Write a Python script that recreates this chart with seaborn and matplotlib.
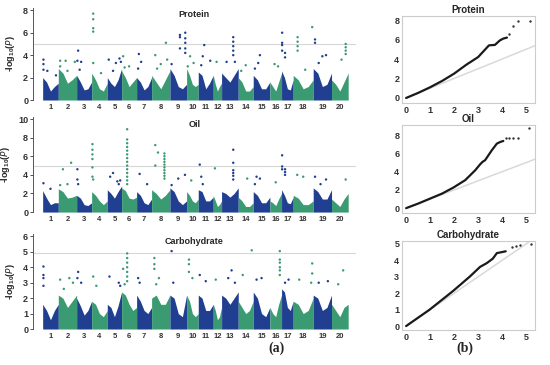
import numpy as np
import pandas as pd
import matplotlib
matplotlib.use("Agg")
import matplotlib.pyplot as plt
import seaborn as sns

sns.set_style("ticks")
plt.rcParams['font.family'] = ['Liberation Sans', 'DejaVu Sans']
plt.rcParams['mathtext.default'] = 'regular'

# relative chromosome widths as they appear on the x axis
CHROMS = list(range(1, 21))
CHROM_LEN = [47, 55, 45, 47, 43, 45, 45, 55, 50, 35, 45, 25, 50, 45, 50, 35, 35, 60, 55, 50]
PROFILE_POS = [0, 0.25, 0.5, 0.75, 1.0]

# height of the dense SNP bulk per chromosome (start, 1/4, mid, 3/4, end)
PROTEIN_BULK = [
    [2.0, 1.6, 0.8, 1.2, 1.5], [2.8, 2.4, 1.5, 1.8, 2.2], [2.2, 1.6, 0.9, 1.0, 1.6],
    [2.4, 1.8, 1.0, 0.8, 1.5], [2.0, 1.5, 1.2, 1.8, 2.8], [2.6, 2.0, 1.2, 1.6, 2.0],
    [2.0, 1.6, 0.9, 1.2, 2.0], [2.2, 1.6, 1.0, 1.8, 2.6], [2.8, 2.2, 1.2, 1.0, 1.4],
    [2.8, 2.2, 1.4, 1.2, 1.4], [2.5, 2.2, 1.0, 1.5, 2.2], [2.2, 1.4, 0.8, 1.2, 1.5],
    [2.4, 2.0, 1.6, 2.2, 2.8], [2.0, 1.6, 0.8, 0.8, 1.2], [2.2, 1.8, 1.0, 1.0, 1.6],
    [1.6, 1.2, 0.8, 1.6, 2.4], [2.6, 2.0, 1.0, 0.9, 1.8], [2.2, 1.8, 1.0, 1.2, 1.8],
    [2.8, 2.4, 1.2, 1.4, 2.4], [1.8, 1.4, 0.8, 1.6, 2.4]]
OIL_BULK = [
    [2.3, 1.5, 0.8, 1.0, 1.0], [2.5, 2.2, 1.5, 1.6, 1.8], [1.8, 1.5, 0.8, 0.7, 1.0],
    [2.2, 1.8, 1.2, 0.8, 1.2], [2.4, 2.0, 1.5, 2.2, 2.8], [2.6, 2.3, 1.5, 1.4, 1.6],
    [2.2, 1.8, 1.0, 0.8, 1.4], [2.4, 2.0, 1.4, 1.8, 2.4], [2.6, 2.2, 1.2, 0.8, 1.2],
    [2.2, 1.8, 1.2, 1.0, 1.4], [2.4, 2.2, 1.2, 1.2, 1.6], [1.8, 1.2, 0.6, 0.8, 1.2],
    [2.2, 2.0, 1.6, 2.0, 2.6], [1.6, 1.2, 0.6, 0.6, 1.0], [2.2, 1.8, 1.0, 1.0, 1.6],
    [1.2, 1.0, 0.7, 1.4, 2.0], [2.4, 1.8, 1.0, 0.9, 1.6], [1.8, 1.5, 0.8, 0.8, 1.2],
    [2.6, 2.2, 1.4, 1.4, 2.4], [1.4, 1.0, 0.6, 1.4, 2.0]]
CARB_BULK = [
    [1.6, 1.2, 0.6, 1.2, 1.6], [2.2, 2.0, 1.4, 1.8, 2.2], [2.0, 1.5, 0.9, 1.2, 1.8],
    [1.8, 1.6, 1.0, 0.8, 1.2], [1.6, 1.4, 0.8, 1.5, 2.4], [2.4, 2.2, 1.6, 1.2, 1.4],
    [2.2, 1.8, 1.2, 1.0, 1.4], [2.0, 2.2, 1.6, 1.6, 2.2], [2.2, 2.0, 1.0, 0.8, 2.2],
    [2.2, 1.8, 1.0, 0.8, 1.0], [2.2, 2.0, 1.2, 1.2, 1.6], [1.6, 1.2, 0.6, 0.8, 1.4],
    [2.2, 2.0, 1.6, 2.0, 2.4], [1.8, 1.4, 1.0, 1.2, 1.8], [2.4, 2.0, 1.0, 0.8, 1.4],
    [1.4, 1.0, 0.8, 1.6, 2.2], [2.6, 2.4, 1.4, 1.2, 1.8], [1.8, 1.6, 1.0, 1.2, 2.0],
    [2.2, 2.0, 1.2, 1.4, 2.2], [1.6, 1.2, 0.8, 1.4, 1.6]]

# individual SNPs standing out above the bulk: (chromosome, relative position, -log10 P)
PROTEIN_HITS = [
    (1, 0.05, 3.6), (1, 0.05, 3.2), (1, 0.05, 2.7), (1, 0.3, 2.6), (1, 0.85, 2.2),
    (2, 0.1, 3.5), (2, 0.1, 3.0), (2, 0.4, 3.5), (2, 0.5, 2.6), (2, 0.9, 3.4),
    (3, 0.1, 4.4), (3, 0.05, 3.5), (3, 0.3, 3.4), (3, 0.2, 2.7),
    (4, 0.1, 7.7), (4, 0.1, 7.2), (4, 0.1, 6.4), (4, 0.1, 6.1), (4, 0.1, 3.3), (4, 0.6, 2.4),
    (5, 0.1, 3.6), (5, 0.6, 3.3), (5, 0.85, 3.7), (5, 0.95, 3.4), (5, 0.4, 2.6),
    (6, 0.1, 3.9), (6, 0.5, 3.0), (6, 0.2, 2.9),
    (7, 0.15, 4.1), (7, 0.3, 3.4), (7, 0.1, 2.8),
    (8, 0.2, 4.0), (8, 0.5, 3.2), (8, 0.78, 5.1), (8, 0.85, 3.6), (8, 0.3, 2.8),
    (9, 0.6, 5.8), (9, 0.6, 5.6), (9, 0.6, 4.6), (9, 0.92, 6.0), (9, 0.92, 5.5),
    (9, 0.92, 5.1), (9, 0.92, 4.6), (9, 0.92, 4.2), (9, 0.1, 3.2),
    (10, 0.3, 3.9), (10, 0.6, 3.3), (10, 0.1, 3.0),
    (11, 0.4, 4.9), (11, 0.3, 3.9), (11, 0.8, 3.5), (11, 0.2, 3.1),
    (12, 0.4, 3.4),
    (13, 0.3, 3.4), (13, 0.7, 5.6), (13, 0.7, 5.2), (13, 0.7, 4.8), (13, 0.7, 4.4), (13, 0.7, 4.0),
    (13, 0.8, 3.4),
    (14, 0.5, 3.1), (14, 0.2, 2.6),
    (15, 0.4, 4.0), (15, 0.3, 3.3), (15, 0.1, 2.8),
    (16, 0.4, 3.2), (16, 0.7, 3.0),
    (17, 0.05, 6.0), (17, 0.05, 5.1), (17, 0.05, 4.9), (17, 0.05, 4.4), (17, 0.3, 4.2), (17, 0.3, 3.8),
    (18, 0.22, 5.6), (18, 0.22, 5.2), (18, 0.22, 4.8), (18, 0.22, 4.4), (18, 0.95, 6.5),
    (18, 0.6, 2.7),
    (19, 0.1, 5.4), (19, 0.1, 5.1), (19, 0.5, 3.9), (19, 0.7, 4.0), (19, 0.3, 3.3),
    (20, 0.85, 5.0), (20, 0.85, 4.7), (20, 0.85, 4.4), (20, 0.85, 4.1), (20, 0.6, 3.6)]
OIL_HITS = [
    (1, 0.05, 3.1), (1, 0.5, 2.5),
    (2, 0.25, 4.6), (2, 0.7, 5.3), (2, 0.5, 3.0), (2, 0.1, 2.9),
    (3, 0.05, 4.6), (3, 0.05, 3.5), (3, 0.1, 3.0),
    (4, 0.05, 7.3), (4, 0.05, 6.7), (4, 0.05, 6.2), (4, 0.05, 5.7), (4, 0.05, 4.8),
    (4, 0.05, 3.8), (4, 0.1, 3.5),
    (5, 0.2, 3.8), (5, 0.4, 4.2), (5, 0.7, 3.3), (5, 0.8, 3.0), (5, 0.9, 3.4),
    (6, 0.37, 8.9), (6, 0.37, 7.8), (6, 0.37, 7.4), (6, 0.37, 7.0), (6, 0.37, 6.6),
    (6, 0.37, 6.2), (6, 0.37, 5.8), (6, 0.37, 5.4), (6, 0.37, 5.0), (6, 0.37, 4.6),
    (6, 0.37, 4.2), (6, 0.37, 3.8), (6, 0.37, 3.4), (6, 0.37, 3.0),
    (7, 0.2, 4.1), (7, 0.7, 3.0),
    (8, 0.2, 7.2), (8, 0.35, 6.4), (8, 0.2, 5.0), (8, 0.7, 6.3), (8, 0.7, 6.0), (8, 0.7, 5.7),
    (8, 0.7, 5.4), (8, 0.7, 5.1), (8, 0.7, 4.8), (8, 0.7, 4.5), (8, 0.7, 4.2), (8, 0.7, 3.9),
    (8, 0.7, 3.6),
    (9, 0.5, 3.6), (9, 0.9, 4.0), (9, 0.1, 2.9),
    (10, 0.4, 3.4),
    (11, 0.1, 5.1), (11, 0.2, 3.8), (11, 0.3, 3.0),
    (12, 0.2, 4.7),
    (13, 0.7, 6.7), (13, 0.7, 5.3), (13, 0.7, 4.5), (13, 0.7, 4.2), (13, 0.7, 3.9), (13, 0.7, 3.5),
    (14, 0.6, 3.6),
    (15, 0.2, 3.8), (15, 0.4, 3.6), (15, 0.1, 3.0),
    (16, 0.5, 3.2),
    (17, 0.05, 6.1), (17, 0.05, 4.9), (17, 0.05, 4.6), (17, 0.3, 4.6), (17, 0.3, 4.3), (17, 0.3, 4.0),
    (18, 0.2, 4.0), (18, 0.5, 3.8),
    (19, 0.1, 3.8), (19, 0.7, 3.5), (19, 0.4, 3.0),
    (20, 0.85, 3.5)]
CARB_HITS = [
    (1, 0.05, 4.05), (1, 0.05, 3.5), (1, 0.05, 3.3), (1, 0.05, 2.8),
    (2, 0.1, 3.2), (2, 0.6, 3.3), (2, 0.8, 3.0), (2, 0.3, 2.6),
    (3, 0.1, 3.7), (3, 0.05, 3.3), (3, 0.3, 3.0),
    (4, 0.1, 3.4), (4, 0.3, 2.8),
    (5, 0.15, 3.4), (5, 0.8, 3.0), (5, 0.9, 2.8),
    (6, 0.37, 4.9), (6, 0.37, 4.6), (6, 0.37, 4.3), (6, 0.37, 4.0), (6, 0.37, 3.7),
    (6, 0.37, 3.4), (6, 0.37, 3.1), (6, 0.1, 3.9), (6, 0.2, 2.9),
    (7, 0.1, 3.3), (7, 0.2, 3.0),
    (8, 0.15, 4.6), (8, 0.15, 4.2), (8, 0.15, 3.9), (8, 0.4, 3.3), (8, 0.25, 2.9),
    (9, 0.1, 5.05), (9, 0.2, 3.0),
    (10, 0.2, 4.5), (10, 0.2, 4.2), (10, 0.2, 3.7), (10, 0.5, 3.3),
    (11, 0.1, 3.5), (11, 0.5, 3.1),
    (12, 0.3, 3.2),
    (13, 0.6, 3.8), (13, 0.4, 3.3), (13, 0.8, 3.0),
    (14, 0.3, 3.5), (14, 0.9, 5.1),
    (15, 0.2, 3.2), (15, 0.5, 3.3),
    (16, 0.85, 5.05), (16, 0.85, 4.5), (16, 0.85, 4.3), (16, 0.85, 4.0), (16, 0.85, 3.8), (16, 0.85, 3.5),
    (17, 0.3, 3.0), (17, 0.6, 3.2),
    (18, 0.3, 3.2), (18, 0.95, 4.25), (18, 0.95, 3.6), (18, 0.9, 3.0),
    (19, 0.3, 3.0), (19, 0.8, 3.1),
    (20, 0.7, 3.8), (20, 0.4, 2.9)]

THRESHOLDS = [5.0, 5.0, 4.9]

# QQ plots: expected vs observed -log10(P)
PROTEIN_QQ_EXP = [0, 0.5, 1.0, 1.5, 2.0, 2.5, 3.0, 3.3, 3.45, 3.7, 3.9, 4.05, 4.2]
PROTEIN_QQ_OBS = [0, 0.52, 1.1, 1.75, 2.5, 3.4, 4.2, 5.0, 5.4, 5.45, 5.9, 6.1, 6.2]
PROTEIN_TAIL_EXP = [4.29, 4.44, 4.68, 5.14]
PROTEIN_TAIL_OBS = [6.6, 7.38, 7.93, 7.93]
OIL_QQ_EXP = [0, 0.5, 1.0, 1.5, 1.97, 2.46, 2.88, 3.08, 3.18, 3.29, 3.57, 3.78, 3.92, 4.05]
OIL_QQ_OBS = [0, 0.5, 1.05, 1.6, 2.26, 3.07, 4.16, 4.8, 5.07, 5.26, 6.35, 7.08, 7.26, 7.37]
OIL_TAIL_EXP = [4.15, 4.29, 4.47, 4.68, 5.13]
OIL_TAIL_OBS = [7.7, 7.7, 7.7, 7.7, 8.83]
CARB_QQ_EXP = [0, 0.98, 1.96, 2.66, 3.08, 3.36, 3.61, 3.78, 3.99, 4.15]
CARB_QQ_OBS = [0, 1.0, 2.14, 3.02, 3.6, 3.83, 4.1, 4.44, 4.5, 4.55]
CARB_TAIL_EXP = [4.41, 4.59, 4.76, 5.21]
CARB_TAIL_OBS = [4.84, 4.9, 4.96, 5.0]

TRAITS = ["Protein", "Oil", "Carbohydrate"]
BLUE = "#213f91"
GREEN = "#3a9a72"

starts = np.concatenate([[0], np.cumsum(CHROM_LEN)[:-1]])
centers = starts + np.array(CHROM_LEN) / 2

fig = plt.figure(figsize=(5.5, 3.65), dpi=100)

man_boxes = [[0.06, 0.726, 0.587, 0.252], [0.06, 0.419, 0.587, 0.26], [0.06, 0.0986, 0.587, 0.26]]
man_ylims = [(0, 8.2), (0, 10.2), (0, 6.15)]
man_yticks = [[0, 2, 4, 6, 8], [0, 2, 4, 6, 8, 10], [0, 1, 2, 3, 4, 5, 6]]
bulks = [PROTEIN_BULK, OIL_BULK, CARB_BULK]
hits = [PROTEIN_HITS, OIL_HITS, CARB_HITS]

for i, trait in enumerate(TRAITS):
    ax = fig.add_axes(man_boxes[i])
    for c in range(20):
        xs = starts[c] + np.array(PROFILE_POS) * CHROM_LEN[c]
        col = BLUE if c % 2 == 0 else GREEN
        ax.fill_between(xs, 0, bulks[i][c], color=col, lw=0)
    df = pd.DataFrame(hits[i], columns=["chrom", "rel", "logp"])
    df["pos"] = starts[df["chrom"] - 1] + df["rel"] * np.array(CHROM_LEN)[df["chrom"] - 1]
    df["grp"] = np.where(df["chrom"] % 2 == 1, "odd", "even")
    sns.scatterplot(data=df, x="pos", y="logp", hue="grp", palette={"odd": BLUE, "even": GREEN},
                    s=3, linewidth=0, legend=False, ax=ax)
    ax.axhline(THRESHOLDS[i], color="#d6d6d6", lw=0.8, zorder=0)
    ax.set_xlim(-29, 940)
    ax.set_ylim(*man_ylims[i])
    ax.set_yticks(man_yticks[i])
    ax.set_xticks(centers)
    ax.set_xticklabels([str(c) for c in CHROMS])
    ax.tick_params(axis="x", length=0, labelsize=5.5, pad=3, colors="#333333")
    ax.tick_params(axis="y", length=2, labelsize=6.5, pad=1.5, colors="#333333", width=0.6)
    for lab in ax.get_xticklabels() + ax.get_yticklabels():
        lab.set_fontweight("bold")
    for s in ["top", "right", "bottom"]:
        ax.spines[s].set_visible(False)
    ax.spines["left"].set_color("#555555")
    ax.spines["left"].set_linewidth(0.7)
    ax.set_xlabel("")
    ax.set_ylabel(r"-log$_{10}$($\it{P}$)", fontsize=6.5, fontweight="bold", labelpad=4)
    ax.text(0.5, 0.98 if i == 0 else 0.97, trait, transform=ax.transAxes, ha="center", va="top",
            fontsize=6.5, fontweight="bold")

qq_boxes = [[0.731, 0.718, 0.242, 0.238], [0.731, 0.416, 0.242, 0.241], [0.731, 0.0959, 0.242, 0.244]]
qq_ylims = [(-0.51, 8.41), (-0.55, 9.1), (-0.24, 5.18)]
qq_yticks = [[0, 2, 4, 6, 8], [0, 2, 4, 6, 8], [0, 1, 2, 3, 4, 5]]
qq_lines = [(PROTEIN_QQ_EXP, PROTEIN_QQ_OBS, PROTEIN_TAIL_EXP, PROTEIN_TAIL_OBS),
            (OIL_QQ_EXP, OIL_QQ_OBS, OIL_TAIL_EXP, OIL_TAIL_OBS),
            (CARB_QQ_EXP, CARB_QQ_OBS, CARB_TAIL_EXP, CARB_TAIL_OBS)]

for i, trait in enumerate(TRAITS):
    ax = fig.add_axes(qq_boxes[i])
    ax.plot([0, 6], [0, 6], color="#d9d9d9", lw=1.1, zorder=1)
    ex, ob, tex, tob = qq_lines[i]
    sns.lineplot(x=ex, y=ob, color="#1a1a1a", lw=1.6, ax=ax, zorder=2, sort=False)
    sns.scatterplot(x=tex, y=tob, color="#333333", s=3, linewidth=0, ax=ax, zorder=3)
    ax.set_xlim(-0.17, 5.375)
    ax.set_ylim(*qq_ylims[i])
    ax.set_xticks([0, 1, 2, 3, 4, 5])
    ax.set_yticks(qq_yticks[i])
    ax.tick_params(length=0, labelsize=6.5, pad=2, colors="#333333")
    for lab in ax.get_xticklabels() + ax.get_yticklabels():
        lab.set_fontweight("bold")
    for s in ax.spines.values():
        s.set_color("#cccccc")
        s.set_linewidth(0.8)
    ax.set_title(trait, fontsize=7, fontweight="bold", pad=2)

fig.text(0.502, 0.047, "(a)", ha="center", va="center", fontsize=10, fontweight="bold",
         family="Liberation Serif")
fig.text(0.845, 0.047, "(b)", ha="center", va="center", fontsize=10, fontweight="bold",
         family="Liberation Serif")

fig.savefig("out.png", dpi=100)
